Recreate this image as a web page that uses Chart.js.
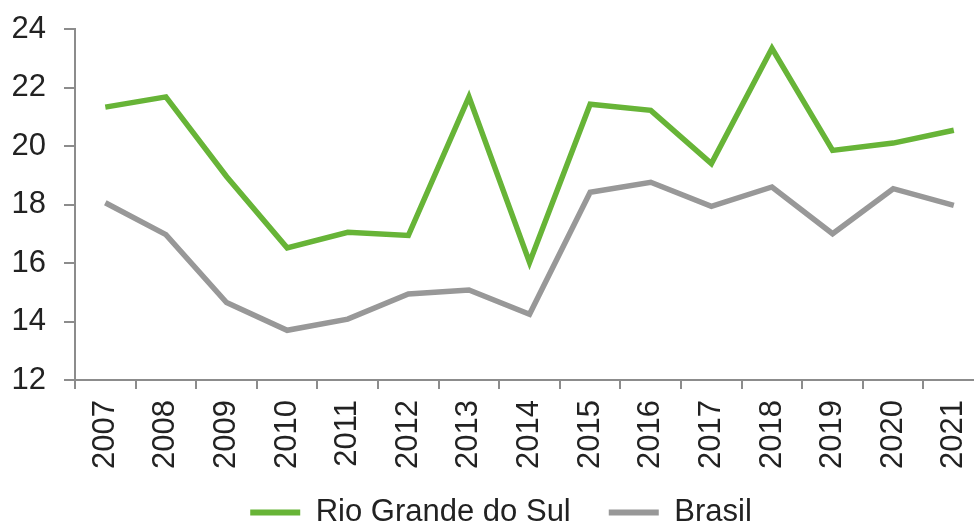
<!DOCTYPE html>
<html>
<head>
<meta charset="utf-8">
<script src="https://cdn.jsdelivr.net/npm/chart.js@4/dist/chart.umd.min.js"></script>
<style>
  html, body { margin: 0; padding: 0; background: #fff; overflow: hidden; }
  #wrap { width: 1002px; height: 525px; position: relative; }
</style>
</head>
<body>
<div id="wrap"><canvas id="c"></canvas></div>
<script>
var anos = ['2007', '2008', '2009', '2010', '2011', '2012', '2013', '2014',
            '2015', '2016', '2017', '2018', '2019', '2020', '2021'];
var rioGrandeDoSul = [21.33, 21.68, 18.96, 16.52, 17.05, 16.94, 21.68, 16.02,
                      21.43, 21.22, 19.4, 23.34, 19.85, 20.1, 20.54];
var brasil = [18.06, 16.97, 14.65, 13.7, 14.08, 14.94, 15.08, 14.25,
              18.42, 18.76, 17.94, 18.6, 17.0, 18.54, 17.97];
var yTicks = [12, 14, 16, 18, 20, 22, 24];

var verde = '#67b437';
var cinza = '#989898';
var eixo = '#8c8c8c';
var fonte = "'Liberation Sans', Arial, sans-serif";

// desce a legenda para a linha de baixo e deixa os anos aparecerem inteiros
var moverLegenda = {
    id: 'moverLegenda',
    afterLayout: function(chart) {
        var lg = chart.legend;
        var h = lg.bottom - lg.top;
        lg.top = 459;
        lg.bottom = lg.top + h;
        chart.scales.x.bottom = chart.height;
    }
};

var ctx = document.getElementById('c');
var chart = new Chart(ctx, {
    type: 'line',
    data: {
        labels: anos,
        datasets: [{
            label: 'Rio Grande do Sul',
            data: rioGrandeDoSul,
            borderColor: verde,
            backgroundColor: verde,
            borderWidth: 5.5,
            pointRadius: 0,
            tension: 0
        }, {
            label: 'Brasil',
            data: brasil,
            borderColor: cinza,
            backgroundColor: cinza,
            borderWidth: 5.5,
            pointRadius: 0,
            tension: 0
        }]
    },
    plugins: [moverLegenda],
    options: {
        responsive: true,
        maintainAspectRatio: false,
        animation: false,
        layout: { padding: { top: 0, right: 0, left: 0, bottom: 0 } },
        plugins: {
            tooltip: { enabled: false },
            legend: {
                position: 'bottom',
                labels: {
                    font: { family: fonte, size: 31 },
                    color: '#222',
                    boxWidth: 50,
                    boxHeight: 6,
                    padding: 38,
                    generateLabels: function(chart) {
                        return chart.data.datasets.map(function(ds, i) {
                            return {
                                text: ds.label,
                                fillStyle: ds.borderColor,
                                strokeStyle: ds.borderColor,
                                lineWidth: 0,
                                fontColor: '#222',
                                datasetIndex: i
                            };
                        });
                    }
                }
            }
        },
        scales: {
            x: {
                offset: true,
                grid: { offset: true, drawOnChartArea: false, drawTicks: true, tickLength: 9, tickColor: eixo, lineWidth: 2 },
                border: { color: eixo, width: 2 },
                ticks: {
                    minRotation: 90,
                    maxRotation: 90,
                    padding: 11,
                    color: '#222',
                    font: { family: fonte, size: 31 }
                },
                afterFit: function(scale) { scale.height = 66; }
            },
            y: {
                min: 12,
                max: 24,
                afterBuildTicks: function(scale) {
                    scale.ticks = yTicks.map(function(v) { return { value: v }; });
                },
                grid: { drawOnChartArea: false, drawTicks: true, tickLength: 11, tickColor: eixo, lineWidth: 2 },
                border: { color: eixo, width: 2 },
                ticks: {
                    padding: 18,
                    color: '#222',
                    font: { family: fonte, size: 31, lineHeight: 0.71 }
                },
                afterFit: function(scale) { scale.width = 75; }
            }
        }
    }
});
</script>
</body>
</html>
